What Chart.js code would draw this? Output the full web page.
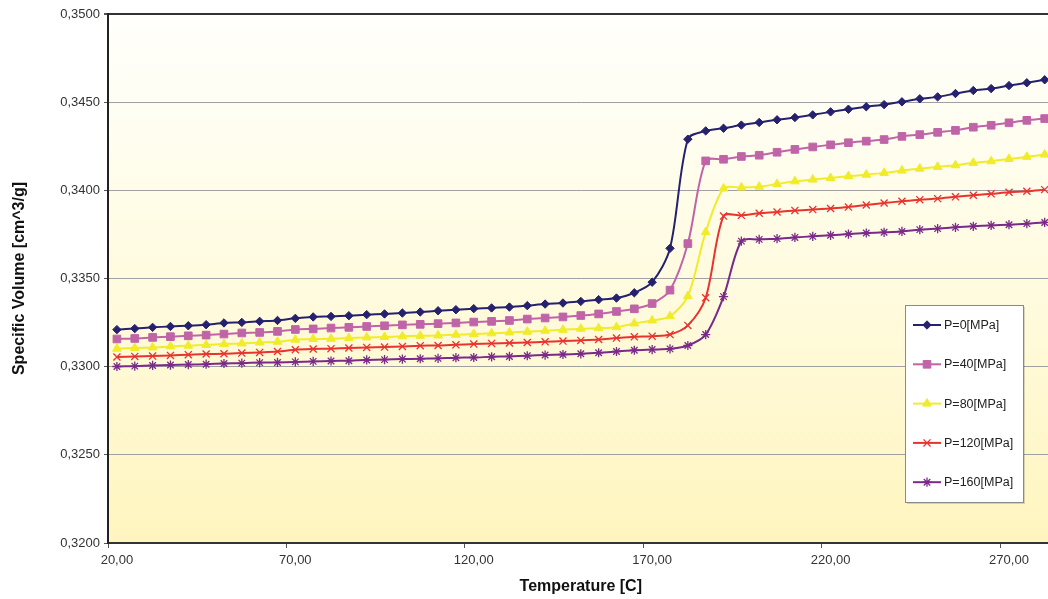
<!DOCTYPE html>
<html><head><meta charset="utf-8">
<script src="https://cdn.jsdelivr.net/npm/chart.js@4.4.1/dist/chart.umd.min.js"></script>
<style>
html,body{margin:0;padding:0;overflow:hidden;background:#fff;}
#wrap{position:relative;width:1060px;height:599px;}
</style></head><body>
<div id="wrap"><canvas id="c"></canvas></div>
<script>
const temperatures = [20,25,30,35,40,45,50,55,60,65,70,75,80,85,90,95,100,105,110,115,120,125,130,135,140,145,150,155,160,165,170,175,180,185,190,195,200,205,210,215,220,225,230,235,240,245,250,255,260,265,270,275,280];
const xLabelValues = [20,70,120,170,220,270];
const yTickValues = [0.3200,0.3250,0.3300,0.3350,0.3400,0.3450,0.3500];
const seriesLabels = ['P=0[MPa]','P=40[MPa]','P=80[MPa]','P=120[MPa]','P=160[MPa]'];

const p0 = [0.3321,0.33216,0.33223,0.33228,0.33232,0.33238,0.33248,0.33251,0.33257,0.33262,
0.33274,0.33282,0.33285,0.33289,0.33295,0.33299,0.33304,0.3331,0.33317,0.33323,
0.33329,0.33333,0.33338,0.33346,0.33355,0.33361,0.3337,0.3338,0.33389,0.33419,
0.33479,0.33671,0.3429,0.34337,0.34352,0.3437,0.34385,0.344,0.34413,0.34428,
0.34445,0.3446,0.34474,0.34486,0.34502,0.34519,0.3453,0.34549,0.34566,0.34577,
0.34594,0.3461,0.34627];
const p40 = [0.33157,0.3316,0.33166,0.3317,0.33175,0.33179,0.33185,0.33191,0.33194,0.332,
0.33211,0.33214,0.33219,0.33223,0.33228,0.33232,0.33237,0.3324,0.33244,0.33248,
0.33253,0.33257,0.33262,0.3327,0.33276,0.33282,0.3329,0.33299,0.33313,0.33328,
0.33358,0.33434,0.33698,0.34167,0.34176,0.34192,0.34199,0.34216,0.34232,0.34246,
0.34258,0.3427,0.34279,0.34288,0.34306,0.34316,0.34329,0.3434,0.34358,0.34369,
0.34383,0.34397,0.34407];
const p80 = [0.33102,0.33106,0.33109,0.33115,0.33119,0.33123,0.33128,0.33132,0.33137,0.33141,
0.33153,0.33157,0.33158,0.33162,0.33166,0.33168,0.33172,0.33175,0.33177,0.33181,
0.33185,0.33189,0.33194,0.33198,0.33204,0.33209,0.33215,0.33218,0.33224,0.33245,
0.33262,0.33286,0.3340,0.33763,0.3401,0.34016,0.34021,0.34036,0.34051,0.34061,
0.3407,0.3408,0.34089,0.34099,0.34112,0.34123,0.34133,0.34142,0.34156,0.34165,
0.34178,0.3419,0.34203];
const p120 = [0.33055,0.33058,0.3306,0.33064,0.33068,0.33072,0.33073,0.33077,0.33081,0.33086,
0.33096,0.331,0.33102,0.33106,0.33109,0.33111,0.33115,0.33119,0.3312,0.33124,
0.33128,0.33132,0.33134,0.33137,0.33141,0.33145,0.33149,0.33154,0.33162,0.33169,
0.33173,0.33182,0.33234,0.33391,0.33854,0.33858,0.3387,0.33877,0.33886,0.33891,
0.33897,0.33905,0.33917,0.33928,0.33938,0.33947,0.33953,0.33963,0.33972,0.3398,
0.33989,0.33995,0.34004];
const p160 = [0.33001,0.33003,0.33007,0.33009,0.33012,0.33014,0.33018,0.3302,0.33023,0.33024,
0.33027,0.3303,0.33032,0.33034,0.33038,0.3304,0.33043,0.33045,0.33047,0.33051,
0.33052,0.33056,0.33058,0.33062,0.33066,0.33069,0.33073,0.33079,0.33086,0.33093,
0.33097,0.33101,0.3312,0.33182,0.33397,0.33712,0.33722,0.33726,0.33733,0.33739,
0.33745,0.33752,0.33758,0.33762,0.33767,0.33777,0.33783,0.3379,0.33796,0.33801,
0.33805,0.33811,0.33818];

const FONT = "'Liberation Sans', Arial, sans-serif";
const fmtComma = (v, d) => Number(v).toFixed(d).replace('.', ',');

const styles = [
  {color:'#26216f', point:'rectRot', r:4.2, pbw:1},
  {color:'#c064a8', point:'rect', r:5.4, pbw:1},
  {color:'#f0ec2a', point:'triangle', r:5, pbw:1},
  {color:'#e9332f', point:'crossRot', r:5, pbw:1.3},
  {color:'#7a2b89', point:'star', r:4.6, pbw:1.3}
];
const seriesData = [p0, p40, p80, p120, p160];

const datasets = seriesData.map((d, i) => ({
  label: seriesLabels[i],
  data: d,
  borderColor: styles[i].color,
  backgroundColor: styles[i].color,
  pointBackgroundColor: styles[i].color,
  pointBorderColor: styles[i].color,
  borderWidth: 2,
  pointStyle: styles[i].point,
  pointRadius: styles[i].r,
  pointBorderWidth: styles[i].pbw,
  tension: 0.3,
  fill: false
}));

const isLabeled = (idx) => idx >= 0 && idx < temperatures.length && xLabelValues.includes(temperatures[idx]);

const bgPlugin = {
  id: 'plotBg',
  beforeDraw(chart) {
    const {ctx, chartArea: a} = chart;
    const g = ctx.createLinearGradient(0, a.top, 0, a.bottom);
    g.addColorStop(0, '#fffffc');
    g.addColorStop(0.5, '#fffbe0');
    g.addColorStop(1, '#fff5bf');
    ctx.save();
    ctx.fillStyle = g;
    ctx.fillRect(a.left, a.top, a.right - a.left, a.bottom - a.top);
    ctx.restore();
  }
};

const legendPlugin = {
  id: 'boxLegend',
  afterDraw(chart) {
    const ctx = chart.ctx;
    const bx = 905, by = 305, bw = 118, bh = 197;
    ctx.save();
    ctx.fillStyle = 'rgba(0,0,0,0.15)';
    ctx.fillRect(bx + 2, by + 2, bw, bh);
    ctx.fillStyle = '#ffffff';
    ctx.fillRect(bx, by, bw, bh);
    ctx.strokeStyle = '#8a8a8a';
    ctx.lineWidth = 1;
    ctx.strokeRect(bx + 0.5, by + 0.5, bw, bh);
    chart.data.datasets.forEach((ds, i) => {
      const y = by + 20 + i * 39.3;
      ctx.strokeStyle = ds.borderColor;
      ctx.lineWidth = 2;
      ctx.beginPath();
      ctx.moveTo(913, y);
      ctx.lineTo(941, y);
      ctx.stroke();
      ctx.fillStyle = ds.pointBackgroundColor;
      ctx.strokeStyle = ds.pointBorderColor;
      ctx.lineWidth = ds.pointBorderWidth;
      if (Chart.helpers && Chart.helpers.drawPoint) {
        Chart.helpers.drawPoint(ctx, {pointStyle: ds.pointStyle, radius: ds.pointRadius, rotation: 0, borderWidth: ds.pointBorderWidth}, 927, y);
      }
      ctx.fillStyle = '#222';
      ctx.font = '12.5px ' + FONT;
      ctx.textBaseline = 'middle';
      ctx.textAlign = 'left';
      ctx.fillText(ds.label, 944, y + 0.5);
    });
    ctx.restore();
  }
};

new Chart(document.getElementById('c'), {
  type: 'line',
  data: { labels: temperatures, datasets },
  plugins: [bgPlugin, legendPlugin],
  options: {
    responsive: true,
    maintainAspectRatio: false,
    animation: false,
    layout: { padding: { top: 14, right: 3, left: 0, bottom: 0 } },
    plugins: { legend: { display: false }, tooltip: { enabled: false } },
    scales: {
      x: {
        type: 'category',
        offset: true,
        grid: {
          offset: true,
          drawOnChartArea: false,
          drawTicks: true,
          tickLength: 5,
          color: (c) => isLabeled(c.index) ? '#555' : 'rgba(0,0,0,0)'
        },
        border: { display: true, color: '#333', width: 2 },
        ticks: {
          autoSkip: false, maxRotation: 0, minRotation: 0, padding: 5,
          color: '#333', font: { family: FONT, size: 13 },
          callback: (v, i) => isLabeled(i) ? fmtComma(temperatures[i], 2) : ''
        },
        title: {
          display: true, text: 'Temperature [C]', color: '#111',
          font: { family: FONT, size: 16, weight: 'bold' },
          padding: { top: 4, bottom: 3 }
        },
        afterFit: (s) => { s.height = 56; }
      },
      y: {
        min: yTickValues[0],
        max: yTickValues[yTickValues.length - 1],
        afterBuildTicks: (s) => { s.ticks = yTickValues.map(v => ({ value: v })); },
        ticks: {
          color: '#333', font: { family: FONT, size: 13 }, padding: 4,
          callback: (v) => fmtComma(v, 4)
        },
        grid: {
          color: (c) => (c.tick && Math.abs(c.tick.value - yTickValues[yTickValues.length - 1]) < 1e-9) ? '#333' : '#a0a0a0',
          lineWidth: (c) => (c.tick && Math.abs(c.tick.value - yTickValues[yTickValues.length - 1]) < 1e-9) ? 2 : 1,
          tickLength: 4,
          tickColor: '#555'
        },
        border: { color: '#222', width: 2 },
        title: {
          display: true, text: 'Specific Volume [cm^3/g]', color: '#111',
          font: { family: FONT, size: 16, weight: 'bold' },
          padding: { top: 10, bottom: 0 }
        },
        afterFit: (s) => { s.width = 108; }
      }
    }
  }
});
</script>
</body></html>
